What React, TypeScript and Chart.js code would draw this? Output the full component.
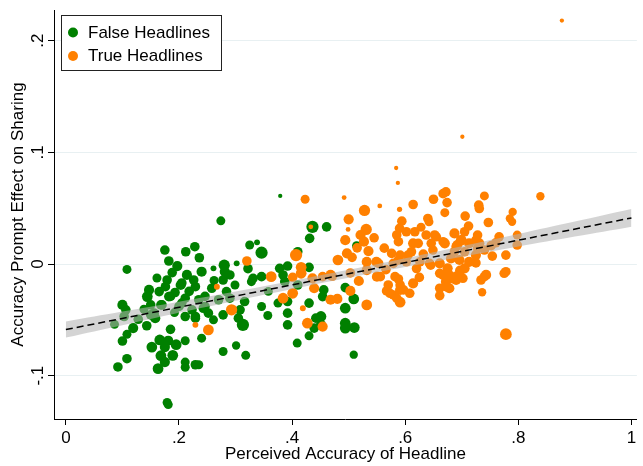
import React, { useEffect, useRef } from "react";
import { Chart, registerables } from "chart.js";

Chart.register(...registerables);

// [perceived accuracy, accuracy prompt effect, respondents weight]
const falseHeadlines: [number, number, number][] = [
  [0.175, 0.0125, 40], [0.212, 0.011, 40], [0.228, 0.0155, 40], [0.182, 0.0027, 40],
  [0.236, 0.0056, 40], [0.108, -0.0048, 35], [0.197, -0.0018, 45], [0.188, -0.0077, 40],
  [0.214, -0.0098, 45], [0.24, -0.0069, 45], [0.226, -0.0143, 40], [0.179, -0.0143, 40],
  [0.203, -0.0188, 45], [0.229, -0.0203, 40], [0.176, -0.0203, 40], [0.147, -0.0232, 45],
  [0.165, -0.0247, 40], [0.144, -0.0292, 50], [0.182, -0.0292, 40], [0.211, -0.0306, 40],
  [0.235, -0.032, 40], [0.1, -0.0366, 45], [0.106, -0.041, 40], [0.15, -0.0366, 40],
  [0.17, -0.0366, 40], [0.2, -0.038, 40], [0.223, -0.041, 40], [0.246, -0.038, 40],
  [0.103, -0.047, 40], [0.15, -0.0455, 40], [0.229, -0.047, 40], [0.261, -0.0039, 15],
  [0.28, -0.001, 55], [0.302, 0.0006, 15], [0.205, -0.017, 40], [0.185, -0.029, 40],
  [0.258, -0.0217, 40], [0.284, -0.0247, 40], [0.299, -0.0188, 35], [0.278, -0.0143, 40],
  [0.27, -0.032, 40], [0.246, -0.029, 40], [0.29, -0.0306, 40], [0.205, -0.035, 40],
  [0.168, -0.0366, 40], [0.316, -0.0336, 40], [0.308, -0.041, 40], [0.278, -0.0455, 40],
  [0.252, -0.044, 40], [0.156, -0.044, 40], [0.086, -0.054, 35], [0.119, -0.0574, 45],
  [0.108, -0.063, 35], [0.143, -0.0553, 40], [0.158, -0.0485, 45], [0.1, -0.069, 40],
  [0.166, -0.068, 50], [0.181, -0.0687, 45], [0.152, -0.0744, 50], [0.175, -0.0744, 45],
  [0.195, -0.0723, 50], [0.211, -0.0687, 35], [0.108, -0.0848, 40], [0.092, -0.0922, 40],
  [0.168, -0.0821, 50], [0.175, -0.0878, 45], [0.189, -0.0818, 50], [0.163, -0.0937, 50],
  [0.211, -0.0878, 35], [0.211, -0.0925, 35], [0.229, -0.0902, 40], [0.181, -0.1259, 35],
  [0.179, -0.124, 35], [0.211, -0.047, 40], [0.229, -0.0485, 40], [0.24, -0.0664, 35],
  [0.379, 0.061, 8], [0.274, 0.0387, 35], [0.436, 0.0333, 65], [0.461, 0.0333, 40],
  [0.431, 0.023, 40], [0.325, 0.017, 35], [0.338, 0.0194, 15], [0.346, 0.0101, 65],
  [0.281, -0.0069, 45], [0.29, -0.0098, 40], [0.41, 0.011, 40], [0.378, -0.0039, 40],
  [0.392, -0.0018, 40], [0.43, -0.003, 40], [0.346, -0.0113, 40], [0.384, -0.0098, 40],
  [0.331, -0.0128, 40], [0.328, -0.0158, 35], [0.387, -0.0158, 40], [0.41, -0.0188, 40],
  [0.456, -0.0232, 40], [0.243, -0.0396, 40], [0.346, -0.038, 35], [0.375, -0.035, 35],
  [0.392, -0.0336, 40], [0.43, -0.035, 40], [0.392, -0.044, 40], [0.261, -0.05, 35],
  [0.305, -0.0485, 40], [0.313, -0.0545, 65], [0.357, -0.0461, 35], [0.392, -0.0545, 40],
  [0.442, -0.0485, 40], [0.439, -0.0574, 40], [0.43, -0.0643, 35], [0.409, -0.0708, 35],
  [0.301, -0.073, 30], [0.278, -0.0783, 35], [0.318, -0.0818, 35], [0.235, -0.0902, 35],
  [0.514, 0.0164, 35], [0.454, -0.0292, 40], [0.494, -0.0211, 40], [0.509, -0.0313, 50],
  [0.494, -0.0396, 50], [0.451, -0.047, 50], [0.451, -0.0545, 45], [0.494, -0.053, 50],
  [0.494, -0.0574, 50], [0.51, -0.0569, 50], [0.509, -0.0812, 30],
  [0.193, -0.0255, 40], [0.218, -0.0245, 40], [0.161, -0.0125, 35], [0.138, -0.0405, 35],
  [0.192, -0.0435, 35], [0.128, -0.0495, 40], [0.262, -0.0148, 35], [0.322, -0.0042, 40],
  [0.358, -0.0245, 35], [0.185, -0.0585, 40],
];

const trueHeadlines: [number, number, number][] = [
  [0.229, -0.0545, 15], [0.252, -0.059, 50], [0.267, -0.0203, 15], [0.293, -0.041, 55],
  [0.32, 0.0027, 40], [0.423, 0.058, 35], [0.433, 0.0333, 10], [0.407, 0.008, 65],
  [0.416, -0.003, 50], [0.416, -0.0083, 50], [0.363, -0.0113, 50], [0.401, -0.0119, 40],
  [0.436, -0.0128, 45], [0.454, -0.0113, 40], [0.439, -0.0217, 45], [0.384, -0.0306, 50],
  [0.401, -0.0262, 50], [0.419, -0.0396, 15], [0.427, -0.053, 50], [0.454, -0.056, 45],
  [0.587, 0.0726, 8], [0.492, 0.0595, 10], [0.555, 0.052, 10], [0.614, 0.0533, 40],
  [0.65, 0.058, 40], [0.667, 0.063, 40], [0.59, 0.049, 12], [0.528, 0.048, 55],
  [0.5, 0.04, 45], [0.67, 0.046, 35], [0.64, 0.0408, 40], [0.594, 0.0384, 40],
  [0.499, 0.031, 10], [0.531, 0.031, 55], [0.59, 0.0319, 40], [0.602, 0.0289, 40],
  [0.637, 0.026, 40], [0.652, 0.026, 40], [0.521, 0.026, 45], [0.585, 0.026, 40],
  [0.494, 0.0214, 45], [0.527, 0.02, 45], [0.614, 0.0185, 45], [0.588, 0.02, 40],
  [0.646, 0.0185, 40], [0.667, 0.02, 40], [0.535, 0.0116, 45], [0.497, 0.0095, 45],
  [0.506, 0.006, 40], [0.481, 0.0036, 50], [0.576, 0.0095, 40], [0.591, 0.008, 40],
  [0.611, 0.011, 40], [0.632, 0.0089, 40], [0.649, 0.0125, 40], [0.532, 0.002, 45],
  [0.549, 0.002, 45], [0.588, 0.0036, 40], [0.602, 0.002, 40], [0.532, -0.0054, 45],
  [0.503, -0.008, 40], [0.468, -0.0098, 45], [0.566, -0.005, 40], [0.62, -0.004, 40],
  [0.645, -0.001, 40], [0.471, -0.011, 40], [0.503, -0.0241, 45], [0.518, -0.0152, 45],
  [0.55, -0.0113, 45], [0.468, -0.032, 45], [0.48, -0.0313, 45], [0.532, -0.0366, 50],
  [0.57, -0.0188, 40], [0.567, -0.0241, 40], [0.588, -0.0134, 40], [0.591, -0.0232, 45],
  [0.579, -0.0277, 40], [0.591, -0.0342, 50], [0.614, -0.0173, 45], [0.661, -0.0217, 40],
  [0.661, -0.0283, 40], [0.672, 0.0646, 40], [0.74, 0.061, 35], [0.839, 0.0607, 30],
  [0.674, 0.055, 40], [0.73, 0.0527, 40], [0.731, 0.0497, 40], [0.79, 0.0467, 30],
  [0.706, 0.0429, 40], [0.785, 0.0408, 30], [0.789, 0.0378, 30], [0.747, 0.0372, 40],
  [0.687, 0.0274, 45], [0.705, 0.0289, 40], [0.728, 0.0259, 40], [0.766, 0.0244, 40],
  [0.798, 0.0259, 35], [0.655, 0.0244, 40], [0.699, 0.0214, 50], [0.67, 0.0185, 45],
  [0.692, 0.017, 45], [0.713, 0.0185, 45], [0.731, 0.0185, 45], [0.76, 0.019, 40],
  [0.798, 0.017, 40], [0.705, 0.011, 40], [0.725, 0.008, 45], [0.754, 0.0071, 40],
  [0.778, 0.008, 40], [0.681, 0.005, 45], [0.696, 0.0036, 45], [0.713, 0.002, 45],
  [0.661, 0.0006, 45], [0.675, -0.0039, 45], [0.725, 0.001, 40], [0.743, -0.0098, 45],
  [0.778, -0.0069, 40], [0.705, -0.0039, 45], [0.667, -0.0098, 45], [0.69, -0.0113, 45],
  [0.672, -0.0158, 45], [0.69, -0.0143, 45], [0.678, -0.0217, 45], [0.734, -0.0143, 40],
  [0.736, -0.0253, 30], [0.778, -0.0628, 60], [0.642, 0.0378, 35], [0.617, 0.0289, 40],
  [0.725, 0.0214, 40], [0.623, 0.0185, 40], [0.69, 0.0155, 40], [0.605, 0.008, 40],
  [0.687, 0.011, 40], [0.728, 0.014, 40], [0.74, 0.0125, 40], [0.626, 0.002, 40],
  [0.643, 0.0006, 40], [0.553, 0.0006, 40], [0.556, -0.0113, 40], [0.579, 0.0006, 40],
  [0.582, -0.0113, 40], [0.591, -0.0188, 40], [0.661, -0.0083, 40], [0.678, -0.0098, 40],
  [0.684, -0.013, 40], [0.672, -0.0203, 40], [0.702, -0.0128, 40], [0.74, -0.0113, 40],
  [0.775, -0.0083, 40], [0.573, -0.0262, 40], [0.597, -0.0232, 40], [0.608, -0.0262, 40],
  [0.585, -0.0306, 40], [0.877, 0.218, 8], [0.701, 0.114, 8], [0.584, 0.086, 8],
  [0.545, 0.0235, 40], [0.563, 0.0142, 40], [0.628, 0.033, 35], [0.712, 0.034, 40],
  [0.752, 0.0165, 40], [0.697, -0.006, 45], [0.625, -0.012, 40], [0.515, 0.0145, 40],
];

// Linear fit with 95% CI band
const fitX = [0, 1];
const fitY = [-0.0587, 0.0413];
const ciX = [0, 0.1, 0.2, 0.3, 0.4, 0.5, 0.6, 0.7, 0.8, 0.9, 1];
const ciLower = [-0.0659, -0.0548, -0.0437, -0.0329, -0.0223, -0.0122, -0.0026, 0.0066, 0.0157, 0.0246, 0.0334];
const ciUpper = [-0.0515, -0.0426, -0.0337, -0.0245, -0.0151, -0.0052, 0.0052, 0.016, 0.0269, 0.038, 0.0492];

const xTicks = [0, 0.2, 0.4, 0.6, 0.8, 1];
const yTicks = [-0.1, 0, 0.1, 0.2];
const seriesNames = ["False Headlines", "True Headlines"];

const GREEN = "#008000";
const ORANGE = "#ff8000";
const FONT = '"Liberation Sans", Arial, sans-serif';

const stataFmt = (v: number) => {
  if (v === 0) return "0";
  const s = String(Math.round(v * 1000) / 1000);
  return s.replace(/^(-?)0\./, "$1.");
};

const radiusOf = (n: number) => 0.76 * Math.sqrt(n);

const overlayPlugin = {
  id: "stataOverlay",
  afterDraw(chart: any) {
    const { ctx } = chart;
    const y = chart.scales.y;
    ctx.save();
    ctx.font = `17px ${FONT}`;
    ctx.fillStyle = "#000";
    ctx.textAlign = "center";
    ctx.textBaseline = "middle";
    yTicks.forEach((v) => {
      const py = y.getPixelForValue(v);
      ctx.save();
      ctx.translate(38, py);
      ctx.rotate(-Math.PI / 2);
      ctx.fillText(stataFmt(v), 0, 0);
      ctx.restore();
    });

    // legend box
    const bx = 61.5, by = 15.5, bw = 160, bh = 55;
    ctx.fillStyle = "#fff";
    ctx.fillRect(bx, by, bw, bh);
    ctx.strokeStyle = "#222";
    ctx.lineWidth = 1;
    ctx.strokeRect(bx, by, bw, bh);
    const colors = [GREEN, ORANGE];
    const rowY = [32.5, 56];
    seriesNames.forEach((name, i) => {
      ctx.beginPath();
      ctx.fillStyle = colors[i];
      ctx.arc(73, rowY[i], 5, 0, Math.PI * 2);
      ctx.fill();
      ctx.fillStyle = "#000";
      ctx.textAlign = "left";
      ctx.textBaseline = "middle";
      ctx.font = `17px ${FONT}`;
      ctx.fillText(name, 88, rowY[i] + 0.5);
    });
    ctx.restore();
  },
};

export default function App() {
  const ref = useRef<HTMLCanvasElement | null>(null);

  useEffect(() => {
    document.body.style.margin = "0";
    if (!ref.current) return;
    const toPts = (arr: [number, number, number][]) => arr.map(([x, y, n]) => ({ x, y, n }));
    const chart = new Chart(ref.current, {
      type: "scatter",
      data: {
        datasets: [
          {
            type: "line",
            label: "Fitted values",
            data: fitX.map((x, i) => ({ x, y: fitY[i] })),
            borderColor: "#000",
            borderWidth: 1.5,
            borderDash: [7, 4],
            pointRadius: 0,
            fill: false,
            order: 0,
          } as any,
          {
            type: "line",
            label: "95% CI upper",
            data: ciX.map((x, i) => ({ x, y: ciUpper[i] })),
            borderColor: "rgba(0,0,0,0)",
            borderWidth: 1,
            pointRadius: 0,
            tension: 0.4,
            fill: "+1",
            backgroundColor: "rgba(180,180,180,0.57)",
            order: 1,
          } as any,
          {
            type: "line",
            label: "95% CI lower",
            data: ciX.map((x, i) => ({ x, y: ciLower[i] })),
            borderColor: "rgba(0,0,0,0)",
            borderWidth: 1,
            pointRadius: 0,
            tension: 0.4,
            fill: false,
            order: 1,
          } as any,
          {
            type: "scatter",
            label: seriesNames[1],
            data: toPts(trueHeadlines),
            backgroundColor: ORANGE,
            borderWidth: 0,
            pointRadius: (c: any) => radiusOf(c.raw ? c.raw.n : 40),
            order: 2,
          } as any,
          {
            type: "scatter",
            label: seriesNames[0],
            data: toPts(falseHeadlines),
            backgroundColor: GREEN,
            borderWidth: 0,
            pointRadius: (c: any) => radiusOf(c.raw ? c.raw.n : 40),
            order: 3,
          } as any,
        ],
      },
      options: {
        animation: false,
        responsive: false,
        maintainAspectRatio: false,
        events: [],
        layout: { padding: { top: 10, right: 1, left: 0, bottom: 0 } },
        plugins: { legend: { display: false }, tooltip: { enabled: false } },
        scales: {
          x: {
            type: "linear",
            min: -0.021,
            max: 1.0096,
            afterBuildTicks: (s: any) => {
              s.ticks = xTicks.map((v) => ({ value: v }));
            },
            afterFit: (s: any) => {
              s.height = 47;
            },
            grid: { drawOnChartArea: false, drawTicks: true, tickLength: 6, tickColor: "#000", tickWidth: 1 },
            border: { color: "#000", width: 1 },
            ticks: {
              color: "#000",
              font: { family: FONT, size: 17 },
              padding: 3,
              maxRotation: 0,
              autoSkip: false,
              callback: (v: any) => stataFmt(Number(v)),
            },
            title: {
              display: true,
              text: "Perceived Accuracy of Headline",
              color: "#000",
              font: { family: FONT, size: 17 },
              padding: { top: 0, bottom: 1 },
            },
          },
          y: {
            type: "linear",
            min: -0.1388,
            max: 0.2275,
            afterBuildTicks: (s: any) => {
              s.ticks = yTicks.map((v) => ({ value: v }));
            },
            afterFit: (s: any) => {
              s.width = 54;
            },
            grid: { color: "#e8f0f2", lineWidth: 1, drawTicks: true, tickLength: 6, tickColor: "#000", tickWidth: 1 },
            border: { color: "#000", width: 1 },
            ticks: { display: false },
            title: {
              display: true,
              text: "Accuracy Prompt Effect on Sharing",
              color: "#000",
              font: { family: FONT, size: 17 },
              padding: { top: 8, bottom: 0 },
            },
          },
        },
      } as any,
      plugins: [overlayPlugin],
    });
    return () => chart.destroy();
  }, []);

  return (
    <div style={{ position: "absolute", left: 0, top: 0, width: 643, height: 466, background: "#fff" }}>
      <canvas ref={ref} width={643} height={466} style={{ width: 643, height: 466 }} />
    </div>
  );
}
